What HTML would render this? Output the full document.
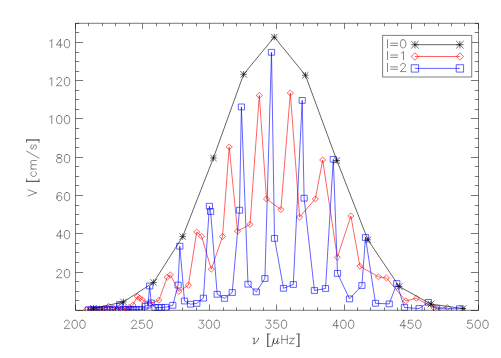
<!DOCTYPE html>
<html><head><meta charset="utf-8"><title>V vs nu</title>
<style>html,body{margin:0;padding:0;background:#fff;overflow:hidden;font-family:"Liberation Sans",sans-serif;}svg{display:block;}</style>
</head><body>
<svg width="501" height="358" viewBox="0 0 501 358" role="img" aria-label="V [cm/s] versus nu [muHz] for l=0, l=1, l=2 modes">
<rect x="0" y="0" width="501" height="358" fill="#fff"/>
<defs><clipPath id="pc"><rect x="75.5" y="23.3" width="403.0" height="287.4"/></clipPath></defs>
<g clip-path="url(#pc)">
<polyline fill="none" stroke="#ff0000" stroke-opacity="0.85" stroke-width="0.72" stroke-linejoin="round" points="86.7,309.6 90.9,309.5 95.1,309.4 99.3,309.2 103.6,308.4 108.6,306.2 113.0,307.7 117.2,308.8 121.4,309.0 125.4,308.6 129.2,307.4 132.9,305.0 137.4,296.5 139.8,298.2 142.3,299.9 150.3,303.5 158.9,300.3 167.2,277.3 170.4,274.9 178.9,291.4 188.4,285.2 196.7,232.0 201.5,236.2 211.3,269.2 222.5,236.5 229.2,147.0 237.5,231.2 250.0,224.4 259.3,95.4 266.5,198.9 280.9,209.5 290.3,93.0 299.6,217.1 315.3,198.9 322.7,160.0 337.3,257.3 350.9,216.0 359.9,266.2 378.5,276.9 386.4,277.9 405.8,300.9 416.2,298.3 434.0,307.8 447.3,307.5"/>
<path fill="none" stroke="#ff0000" stroke-opacity="0.85" stroke-width="0.72" d="M83.6 309.6 l3.1 -2.9 l3.1 2.9 l-3.1 2.9 Z M87.8 309.5 l3.1 -2.9 l3.1 2.9 l-3.1 2.9 Z M92.0 309.4 l3.1 -2.9 l3.1 2.9 l-3.1 2.9 Z M96.2 309.2 l3.1 -2.9 l3.1 2.9 l-3.1 2.9 Z M100.5 308.4 l3.1 -2.9 l3.1 2.9 l-3.1 2.9 Z M105.5 306.2 l3.1 -2.9 l3.1 2.9 l-3.1 2.9 Z M109.9 307.7 l3.1 -2.9 l3.1 2.9 l-3.1 2.9 Z M114.1 308.8 l3.1 -2.9 l3.1 2.9 l-3.1 2.9 Z M118.3 309.0 l3.1 -2.9 l3.1 2.9 l-3.1 2.9 Z M122.3 308.6 l3.1 -2.9 l3.1 2.9 l-3.1 2.9 Z M126.1 307.4 l3.1 -2.9 l3.1 2.9 l-3.1 2.9 Z M129.8 305.0 l3.1 -2.9 l3.1 2.9 l-3.1 2.9 Z M134.3 296.5 l3.1 -2.9 l3.1 2.9 l-3.1 2.9 Z M136.7 298.2 l3.1 -2.9 l3.1 2.9 l-3.1 2.9 Z M139.2 299.9 l3.1 -2.9 l3.1 2.9 l-3.1 2.9 Z M147.2 303.5 l3.1 -2.9 l3.1 2.9 l-3.1 2.9 Z M155.8 300.3 l3.1 -2.9 l3.1 2.9 l-3.1 2.9 Z M164.1 277.3 l3.1 -2.9 l3.1 2.9 l-3.1 2.9 Z M167.3 274.9 l3.1 -2.9 l3.1 2.9 l-3.1 2.9 Z M175.8 291.4 l3.1 -2.9 l3.1 2.9 l-3.1 2.9 Z M185.3 285.2 l3.1 -2.9 l3.1 2.9 l-3.1 2.9 Z M193.6 232.0 l3.1 -2.9 l3.1 2.9 l-3.1 2.9 Z M198.4 236.2 l3.1 -2.9 l3.1 2.9 l-3.1 2.9 Z M208.2 269.2 l3.1 -2.9 l3.1 2.9 l-3.1 2.9 Z M219.4 236.5 l3.1 -2.9 l3.1 2.9 l-3.1 2.9 Z M226.1 147.0 l3.1 -2.9 l3.1 2.9 l-3.1 2.9 Z M234.4 231.2 l3.1 -2.9 l3.1 2.9 l-3.1 2.9 Z M246.9 224.4 l3.1 -2.9 l3.1 2.9 l-3.1 2.9 Z M256.2 95.4 l3.1 -2.9 l3.1 2.9 l-3.1 2.9 Z M263.4 198.9 l3.1 -2.9 l3.1 2.9 l-3.1 2.9 Z M277.8 209.5 l3.1 -2.9 l3.1 2.9 l-3.1 2.9 Z M287.2 93.0 l3.1 -2.9 l3.1 2.9 l-3.1 2.9 Z M296.5 217.1 l3.1 -2.9 l3.1 2.9 l-3.1 2.9 Z M312.2 198.9 l3.1 -2.9 l3.1 2.9 l-3.1 2.9 Z M319.6 160.0 l3.1 -2.9 l3.1 2.9 l-3.1 2.9 Z M334.2 257.3 l3.1 -2.9 l3.1 2.9 l-3.1 2.9 Z M347.8 216.0 l3.1 -2.9 l3.1 2.9 l-3.1 2.9 Z M356.8 266.2 l3.1 -2.9 l3.1 2.9 l-3.1 2.9 Z M375.4 276.9 l3.1 -2.9 l3.1 2.9 l-3.1 2.9 Z M383.3 277.9 l3.1 -2.9 l3.1 2.9 l-3.1 2.9 Z M402.7 300.9 l3.1 -2.9 l3.1 2.9 l-3.1 2.9 Z M413.1 298.3 l3.1 -2.9 l3.1 2.9 l-3.1 2.9 Z M430.9 307.8 l3.1 -2.9 l3.1 2.9 l-3.1 2.9 Z M444.2 307.5 l3.1 -2.9 l3.1 2.9 l-3.1 2.9 Z"/>
<polyline fill="none" stroke="#0000ff" stroke-opacity="0.85" stroke-width="0.72" stroke-linejoin="round" points="88.3,309.8 91.0,309.8 93.7,309.8 96.4,309.8 99.1,309.8 101.8,309.8 104.5,309.8 107.2,309.8 109.9,309.8 112.6,309.8 115.3,309.8 119.7,304.5 119.9,306.3 123.2,309.6 125.8,309.6 128.4,309.6 131.0,309.6 133.6,309.6 136.2,309.6 138.8,309.6 141.4,309.6 145.0,306.3 148.0,305.0 149.7,286.0 151.2,302.9 155.0,307.5 158.3,307.5 161.5,307.5 165.5,307.3 172.8,305.3 178.1,285.1 179.8,246.2 184.5,301.0 190.5,304.2 196.8,303.4 203.4,298.1 209.4,206.2 210.6,211.5 217.2,294.3 224.5,298.4 232.2,292.5 239.5,210.2 241.4,106.9 248.0,284.2 256.3,291.9 264.9,278.5 271.5,52.3 274.5,238.4 283.5,288.3 293.3,284.5 302.2,100.4 304.1,198.2 314.4,290.5 325.5,288.5 333.3,159.3 337.5,273.4 349.5,298.9 361.9,285.5 365.5,237.5 375.5,303.3 389.2,303.9 396.8,283.5 404.5,307.5 419.1,308.5 428.3,302.4 436.6,308.8 459.6,308.7"/>
<path fill="none" stroke="#0000ff" stroke-opacity="0.85" stroke-width="0.72" d="M85.2 306.9 h6.2 v5.8 h-6.2 Z M87.9 306.9 h6.2 v5.8 h-6.2 Z M90.6 306.9 h6.2 v5.8 h-6.2 Z M93.3 306.9 h6.2 v5.8 h-6.2 Z M96.0 306.9 h6.2 v5.8 h-6.2 Z M98.7 306.9 h6.2 v5.8 h-6.2 Z M101.4 306.9 h6.2 v5.8 h-6.2 Z M104.1 306.9 h6.2 v5.8 h-6.2 Z M106.8 306.9 h6.2 v5.8 h-6.2 Z M109.5 306.9 h6.2 v5.8 h-6.2 Z M112.2 306.9 h6.2 v5.8 h-6.2 Z M116.6 301.6 h6.2 v5.8 h-6.2 Z M116.8 303.4 h6.2 v5.8 h-6.2 Z M120.1 306.7 h6.2 v5.8 h-6.2 Z M122.7 306.7 h6.2 v5.8 h-6.2 Z M125.3 306.7 h6.2 v5.8 h-6.2 Z M127.9 306.7 h6.2 v5.8 h-6.2 Z M130.5 306.7 h6.2 v5.8 h-6.2 Z M133.1 306.7 h6.2 v5.8 h-6.2 Z M135.7 306.7 h6.2 v5.8 h-6.2 Z M138.3 306.7 h6.2 v5.8 h-6.2 Z M141.9 303.4 h6.2 v5.8 h-6.2 Z M144.9 302.1 h6.2 v5.8 h-6.2 Z M146.6 283.1 h6.2 v5.8 h-6.2 Z M148.1 300.0 h6.2 v5.8 h-6.2 Z M151.9 304.6 h6.2 v5.8 h-6.2 Z M155.2 304.6 h6.2 v5.8 h-6.2 Z M158.4 304.6 h6.2 v5.8 h-6.2 Z M162.4 304.4 h6.2 v5.8 h-6.2 Z M169.7 302.4 h6.2 v5.8 h-6.2 Z M175.0 282.2 h6.2 v5.8 h-6.2 Z M176.7 243.3 h6.2 v5.8 h-6.2 Z M181.4 298.1 h6.2 v5.8 h-6.2 Z M187.4 301.3 h6.2 v5.8 h-6.2 Z M193.7 300.5 h6.2 v5.8 h-6.2 Z M200.3 295.2 h6.2 v5.8 h-6.2 Z M206.3 203.3 h6.2 v5.8 h-6.2 Z M207.5 208.6 h6.2 v5.8 h-6.2 Z M214.1 291.4 h6.2 v5.8 h-6.2 Z M221.4 295.5 h6.2 v5.8 h-6.2 Z M229.1 289.6 h6.2 v5.8 h-6.2 Z M236.4 207.3 h6.2 v5.8 h-6.2 Z M238.3 104.0 h6.2 v5.8 h-6.2 Z M244.9 281.3 h6.2 v5.8 h-6.2 Z M253.2 289.0 h6.2 v5.8 h-6.2 Z M261.8 275.6 h6.2 v5.8 h-6.2 Z M268.4 49.4 h6.2 v5.8 h-6.2 Z M271.4 235.5 h6.2 v5.8 h-6.2 Z M280.4 285.4 h6.2 v5.8 h-6.2 Z M290.2 281.6 h6.2 v5.8 h-6.2 Z M299.1 97.5 h6.2 v5.8 h-6.2 Z M301.0 195.3 h6.2 v5.8 h-6.2 Z M311.3 287.6 h6.2 v5.8 h-6.2 Z M322.4 285.6 h6.2 v5.8 h-6.2 Z M330.2 156.4 h6.2 v5.8 h-6.2 Z M334.4 270.5 h6.2 v5.8 h-6.2 Z M346.4 296.0 h6.2 v5.8 h-6.2 Z M358.8 282.6 h6.2 v5.8 h-6.2 Z M362.4 234.6 h6.2 v5.8 h-6.2 Z M372.4 300.4 h6.2 v5.8 h-6.2 Z M386.1 301.0 h6.2 v5.8 h-6.2 Z M393.7 280.6 h6.2 v5.8 h-6.2 Z M401.4 304.6 h6.2 v5.8 h-6.2 Z M416.0 305.6 h6.2 v5.8 h-6.2 Z M425.2 299.5 h6.2 v5.8 h-6.2 Z M433.5 305.9 h6.2 v5.8 h-6.2 Z M456.5 305.8 h6.2 v5.8 h-6.2 Z"/>
<polyline fill="none" stroke="#000" stroke-opacity="0.85" stroke-width="0.72" stroke-linejoin="round" points="93.5,308.3 123.5,301.9 153.6,282.4 182.7,236.6 213.4,158.0 243.6,74.3 274.3,37.1 305.4,75.2 336.9,160.5 367.9,239.9 399.3,286.5 430.9,304.1 463.0,308.5"/>
<path fill="none" stroke="#000" stroke-opacity="0.85" stroke-width="0.72" d="M90.3 308.3 h6.4 M93.5 305.1 v6.4 M90.3 305.1 l6.4 6.4 M90.3 311.5 l6.4 -6.4 M120.3 301.9 h6.4 M123.5 298.7 v6.4 M120.3 298.7 l6.4 6.4 M120.3 305.1 l6.4 -6.4 M150.4 282.4 h6.4 M153.6 279.2 v6.4 M150.4 279.2 l6.4 6.4 M150.4 285.6 l6.4 -6.4 M179.5 236.6 h6.4 M182.7 233.4 v6.4 M179.5 233.4 l6.4 6.4 M179.5 239.8 l6.4 -6.4 M210.2 158.0 h6.4 M213.4 154.8 v6.4 M210.2 154.8 l6.4 6.4 M210.2 161.2 l6.4 -6.4 M240.4 74.3 h6.4 M243.6 71.1 v6.4 M240.4 71.1 l6.4 6.4 M240.4 77.5 l6.4 -6.4 M271.1 37.1 h6.4 M274.3 33.9 v6.4 M271.1 33.9 l6.4 6.4 M271.1 40.3 l6.4 -6.4 M302.2 75.2 h6.4 M305.4 72.0 v6.4 M302.2 72.0 l6.4 6.4 M302.2 78.4 l6.4 -6.4 M333.7 160.5 h6.4 M336.9 157.3 v6.4 M333.7 157.3 l6.4 6.4 M333.7 163.7 l6.4 -6.4 M364.7 239.9 h6.4 M367.9 236.7 v6.4 M364.7 236.7 l6.4 6.4 M364.7 243.1 l6.4 -6.4 M396.1 286.5 h6.4 M399.3 283.3 v6.4 M396.1 283.3 l6.4 6.4 M396.1 289.7 l6.4 -6.4 M427.7 304.1 h6.4 M430.9 300.9 v6.4 M427.7 300.9 l6.4 6.4 M427.7 307.3 l6.4 -6.4 M459.8 308.5 h6.4 M463.0 305.3 v6.4 M459.8 305.3 l6.4 6.4 M459.8 311.7 l6.4 -6.4"/>
</g>
<path fill="none" stroke="#000" stroke-opacity="0.52" stroke-width="1" d="M75.5 23.3 H478.5 V310.3 H75.5 Z M75.50 310.3 v-5.8 M75.50 23.3 v5.8 M88.50 310.3 v-2.9 M88.50 23.3 v2.9 M102.50 310.3 v-2.9 M102.50 23.3 v2.9 M115.50 310.3 v-2.9 M115.50 23.3 v2.9 M129.50 310.3 v-2.9 M129.50 23.3 v2.9 M142.50 310.3 v-5.8 M142.50 23.3 v5.8 M156.50 310.3 v-2.9 M156.50 23.3 v2.9 M169.50 310.3 v-2.9 M169.50 23.3 v2.9 M182.50 310.3 v-2.9 M182.50 23.3 v2.9 M196.50 310.3 v-2.9 M196.50 23.3 v2.9 M209.50 310.3 v-5.8 M209.50 23.3 v5.8 M223.50 310.3 v-2.9 M223.50 23.3 v2.9 M236.50 310.3 v-2.9 M236.50 23.3 v2.9 M250.50 310.3 v-2.9 M250.50 23.3 v2.9 M263.50 310.3 v-2.9 M263.50 23.3 v2.9 M276.50 310.3 v-5.8 M276.50 23.3 v5.8 M290.50 310.3 v-2.9 M290.50 23.3 v2.9 M303.50 310.3 v-2.9 M303.50 23.3 v2.9 M317.50 310.3 v-2.9 M317.50 23.3 v2.9 M330.50 310.3 v-2.9 M330.50 23.3 v2.9 M344.50 310.3 v-5.8 M344.50 23.3 v5.8 M357.50 310.3 v-2.9 M357.50 23.3 v2.9 M370.50 310.3 v-2.9 M370.50 23.3 v2.9 M384.50 310.3 v-2.9 M384.50 23.3 v2.9 M397.50 310.3 v-2.9 M397.50 23.3 v2.9 M411.50 310.3 v-5.8 M411.50 23.3 v5.8 M424.50 310.3 v-2.9 M424.50 23.3 v2.9 M438.50 310.3 v-2.9 M438.50 23.3 v2.9 M451.50 310.3 v-2.9 M451.50 23.3 v2.9 M464.50 310.3 v-2.9 M464.50 23.3 v2.9 M478.50 310.3 v-5.8 M478.50 23.3 v5.8 M75.5 310.50 h7.6 M478.5 310.50 h-7.6 M75.5 300.50 h3.7 M478.5 300.50 h-3.7 M75.5 291.50 h3.7 M478.5 291.50 h-3.7 M75.5 281.50 h3.7 M478.5 281.50 h-3.7 M75.5 272.50 h7.6 M478.5 272.50 h-7.6 M75.5 262.50 h3.7 M478.5 262.50 h-3.7 M75.5 252.50 h3.7 M478.5 252.50 h-3.7 M75.5 243.50 h3.7 M478.5 243.50 h-3.7 M75.5 233.50 h7.6 M478.5 233.50 h-7.6 M75.5 224.50 h3.7 M478.5 224.50 h-3.7 M75.5 214.50 h3.7 M478.5 214.50 h-3.7 M75.5 205.50 h3.7 M478.5 205.50 h-3.7 M75.5 195.50 h7.6 M478.5 195.50 h-7.6 M75.5 185.50 h3.7 M478.5 185.50 h-3.7 M75.5 176.50 h3.7 M478.5 176.50 h-3.7 M75.5 166.50 h3.7 M478.5 166.50 h-3.7 M75.5 157.50 h7.6 M478.5 157.50 h-7.6 M75.5 147.50 h3.7 M478.5 147.50 h-3.7 M75.5 138.50 h3.7 M478.5 138.50 h-3.7 M75.5 128.50 h3.7 M478.5 128.50 h-3.7 M75.5 118.50 h7.6 M478.5 118.50 h-7.6 M75.5 109.50 h3.7 M478.5 109.50 h-3.7 M75.5 99.50 h3.7 M478.5 99.50 h-3.7 M75.5 90.50 h3.7 M478.5 90.50 h-3.7 M75.5 80.50 h7.6 M478.5 80.50 h-7.6 M75.5 71.50 h3.7 M478.5 71.50 h-3.7 M75.5 61.50 h3.7 M478.5 61.50 h-3.7 M75.5 52.50 h3.7 M478.5 52.50 h-3.7 M75.5 42.50 h7.6 M478.5 42.50 h-7.6 M75.5 32.50 h3.7 M478.5 32.50 h-3.7 M75.5 23.50 h3.7 M478.5 23.50 h-3.7"/>
<path fill="none" stroke="#000" stroke-opacity="0.66" stroke-width="0.95" stroke-linejoin="round" stroke-linecap="round" d="M253.15 338.24 L254.32 338.24 L254.17 340.58 L253.93 343.70 M258.61 338.24 L258.22 339.41 L257.83 340.19 L256.66 341.75 L255.49 342.92 L253.93 343.70 M274.21 338.24 L271.87 346.43 M273.82 339.80 L273.43 341.75 L273.43 342.92 L274.21 343.70 L274.99 343.70 L275.77 343.31 L276.55 342.53 L277.33 340.97 M278.11 338.24 L277.33 340.97 L276.94 342.53 L276.94 343.31 L277.33 343.70 L278.11 343.70 L278.89 342.92 L279.28 342.14"/>
<path fill="none" stroke="#000" stroke-opacity="0.58" stroke-width="0.82" stroke-linejoin="round" stroke-linecap="round" d="M64.56 322.16 L64.56 321.77 L64.95 320.99 L65.34 320.60 L66.12 320.21 L67.68 320.21 L68.46 320.60 L68.85 320.99 L69.24 321.77 L69.24 322.55 L68.85 323.33 L68.07 324.50 L64.17 328.40 L69.63 328.40 M74.31 320.21 L73.14 320.60 L72.36 321.77 L71.97 323.72 L71.97 324.89 L72.36 326.84 L73.14 328.01 L74.31 328.40 L75.09 328.40 L76.26 328.01 L77.04 326.84 L77.43 324.89 L77.43 323.72 L77.04 321.77 L76.26 320.60 L75.09 320.21 L74.31 320.21 M82.11 320.21 L80.94 320.60 L80.16 321.77 L79.77 323.72 L79.77 324.89 L80.16 326.84 L80.94 328.01 L82.11 328.40 L82.89 328.40 L84.06 328.01 L84.84 326.84 L85.23 324.89 L85.23 323.72 L84.84 321.77 L84.06 320.60 L82.89 320.21 L82.11 320.21 M131.73 322.16 L131.73 321.77 L132.12 320.99 L132.51 320.60 L133.29 320.21 L134.85 320.21 L135.63 320.60 L136.02 320.99 L136.41 321.77 L136.41 322.55 L136.02 323.33 L135.24 324.50 L131.34 328.40 L136.80 328.40 M143.82 320.21 L139.92 320.21 L139.53 323.72 L139.92 323.33 L141.09 322.94 L142.26 322.94 L143.43 323.33 L144.21 324.11 L144.60 325.28 L144.60 326.06 L144.21 327.23 L143.43 328.01 L142.26 328.40 L141.09 328.40 L139.92 328.01 L139.53 327.62 L139.14 326.84 M149.28 320.21 L148.11 320.60 L147.33 321.77 L146.94 323.72 L146.94 324.89 L147.33 326.84 L148.11 328.01 L149.28 328.40 L150.06 328.40 L151.23 328.01 L152.01 326.84 L152.40 324.89 L152.40 323.72 L152.01 321.77 L151.23 320.60 L150.06 320.21 L149.28 320.21 M199.28 320.21 L203.57 320.21 L201.23 323.33 L202.40 323.33 L203.18 323.72 L203.57 324.11 L203.96 325.28 L203.96 326.06 L203.57 327.23 L202.79 328.01 L201.62 328.40 L200.45 328.40 L199.28 328.01 L198.89 327.62 L198.50 326.84 M208.64 320.21 L207.47 320.60 L206.69 321.77 L206.30 323.72 L206.30 324.89 L206.69 326.84 L207.47 328.01 L208.64 328.40 L209.42 328.40 L210.59 328.01 L211.37 326.84 L211.76 324.89 L211.76 323.72 L211.37 321.77 L210.59 320.60 L209.42 320.21 L208.64 320.21 M216.44 320.21 L215.27 320.60 L214.49 321.77 L214.10 323.72 L214.10 324.89 L214.49 326.84 L215.27 328.01 L216.44 328.40 L217.22 328.40 L218.39 328.01 L219.17 326.84 L219.56 324.89 L219.56 323.72 L219.17 321.77 L218.39 320.60 L217.22 320.21 L216.44 320.21 M266.45 320.21 L270.74 320.21 L268.40 323.33 L269.57 323.33 L270.35 323.72 L270.74 324.11 L271.13 325.28 L271.13 326.06 L270.74 327.23 L269.96 328.01 L268.79 328.40 L267.62 328.40 L266.45 328.01 L266.06 327.62 L265.67 326.84 M278.15 320.21 L274.25 320.21 L273.86 323.72 L274.25 323.33 L275.42 322.94 L276.59 322.94 L277.76 323.33 L278.54 324.11 L278.93 325.28 L278.93 326.06 L278.54 327.23 L277.76 328.01 L276.59 328.40 L275.42 328.40 L274.25 328.01 L273.86 327.62 L273.47 326.84 M283.61 320.21 L282.44 320.60 L281.66 321.77 L281.27 323.72 L281.27 324.89 L281.66 326.84 L282.44 328.01 L283.61 328.40 L284.39 328.40 L285.56 328.01 L286.34 326.84 L286.73 324.89 L286.73 323.72 L286.34 321.77 L285.56 320.60 L284.39 320.21 L283.61 320.21 M336.74 320.21 L332.84 325.67 L338.69 325.67 M336.74 320.21 L336.74 328.40 M342.98 320.21 L341.81 320.60 L341.03 321.77 L340.64 323.72 L340.64 324.89 L341.03 326.84 L341.81 328.01 L342.98 328.40 L343.76 328.40 L344.93 328.01 L345.71 326.84 L346.10 324.89 L346.10 323.72 L345.71 321.77 L344.93 320.60 L343.76 320.21 L342.98 320.21 M350.78 320.21 L349.61 320.60 L348.83 321.77 L348.44 323.72 L348.44 324.89 L348.83 326.84 L349.61 328.01 L350.78 328.40 L351.56 328.40 L352.73 328.01 L353.51 326.84 L353.90 324.89 L353.90 323.72 L353.51 321.77 L352.73 320.60 L351.56 320.21 L350.78 320.21 M403.90 320.21 L400.00 325.67 L405.85 325.67 M403.90 320.21 L403.90 328.40 M412.48 320.21 L408.58 320.21 L408.19 323.72 L408.58 323.33 L409.75 322.94 L410.92 322.94 L412.09 323.33 L412.87 324.11 L413.26 325.28 L413.26 326.06 L412.87 327.23 L412.09 328.01 L410.92 328.40 L409.75 328.40 L408.58 328.01 L408.19 327.62 L407.80 326.84 M417.94 320.21 L416.77 320.60 L415.99 321.77 L415.60 323.72 L415.60 324.89 L415.99 326.84 L416.77 328.01 L417.94 328.40 L418.72 328.40 L419.89 328.01 L420.67 326.84 L421.06 324.89 L421.06 323.72 L420.67 321.77 L419.89 320.60 L418.72 320.21 L417.94 320.21 M471.85 320.21 L467.95 320.21 L467.56 323.72 L467.95 323.33 L469.12 322.94 L470.29 322.94 L471.46 323.33 L472.24 324.11 L472.63 325.28 L472.63 326.06 L472.24 327.23 L471.46 328.01 L470.29 328.40 L469.12 328.40 L467.95 328.01 L467.56 327.62 L467.17 326.84 M477.31 320.21 L476.14 320.60 L475.36 321.77 L474.97 323.72 L474.97 324.89 L475.36 326.84 L476.14 328.01 L477.31 328.40 L478.09 328.40 L479.26 328.01 L480.04 326.84 L480.43 324.89 L480.43 323.72 L480.04 321.77 L479.26 320.60 L478.09 320.21 L477.31 320.21 M485.11 320.21 L483.94 320.60 L483.16 321.77 L482.77 323.72 L482.77 324.89 L483.16 326.84 L483.94 328.01 L485.11 328.40 L485.89 328.40 L487.06 328.01 L487.84 326.84 L488.23 324.89 L488.23 323.72 L487.84 321.77 L487.06 320.60 L485.89 320.21 L485.11 320.21 M56.86 271.46 L56.86 271.07 L57.25 270.29 L57.64 269.90 L58.42 269.51 L59.98 269.51 L60.76 269.90 L61.15 270.29 L61.54 271.07 L61.54 271.85 L61.15 272.63 L60.37 273.80 L56.47 277.70 L61.93 277.70 M66.61 269.51 L65.44 269.90 L64.66 271.07 L64.27 273.02 L64.27 274.19 L64.66 276.14 L65.44 277.31 L66.61 277.70 L67.39 277.70 L68.56 277.31 L69.34 276.14 L69.73 274.19 L69.73 273.02 L69.34 271.07 L68.56 269.90 L67.39 269.51 L66.61 269.51 M60.37 230.51 L56.47 235.97 L62.32 235.97 M60.37 230.51 L60.37 238.70 M66.61 230.51 L65.44 230.90 L64.66 232.07 L64.27 234.02 L64.27 235.19 L64.66 237.14 L65.44 238.31 L66.61 238.70 L67.39 238.70 L68.56 238.31 L69.34 237.14 L69.73 235.19 L69.73 234.02 L69.34 232.07 L68.56 230.90 L67.39 230.51 L66.61 230.51 M61.54 193.68 L61.15 192.90 L59.98 192.51 L59.20 192.51 L58.03 192.90 L57.25 194.07 L56.86 196.02 L56.86 197.97 L57.25 199.53 L58.03 200.31 L59.20 200.70 L59.59 200.70 L60.76 200.31 L61.54 199.53 L61.93 198.36 L61.93 197.97 L61.54 196.80 L60.76 196.02 L59.59 195.63 L59.20 195.63 L58.03 196.02 L57.25 196.80 L56.86 197.97 M66.61 192.51 L65.44 192.90 L64.66 194.07 L64.27 196.02 L64.27 197.19 L64.66 199.14 L65.44 200.31 L66.61 200.70 L67.39 200.70 L68.56 200.31 L69.34 199.14 L69.73 197.19 L69.73 196.02 L69.34 194.07 L68.56 192.90 L67.39 192.51 L66.61 192.51 M58.42 154.51 L57.25 154.90 L56.86 155.68 L56.86 156.46 L57.25 157.24 L58.03 157.63 L59.59 158.02 L60.76 158.41 L61.54 159.19 L61.93 159.97 L61.93 161.14 L61.54 161.92 L61.15 162.31 L59.98 162.70 L58.42 162.70 L57.25 162.31 L56.86 161.92 L56.47 161.14 L56.47 159.97 L56.86 159.19 L57.64 158.41 L58.81 158.02 L60.37 157.63 L61.15 157.24 L61.54 156.46 L61.54 155.68 L61.15 154.90 L59.98 154.51 L58.42 154.51 M66.61 154.51 L65.44 154.90 L64.66 156.07 L64.27 158.02 L64.27 159.19 L64.66 161.14 L65.44 162.31 L66.61 162.70 L67.39 162.70 L68.56 162.31 L69.34 161.14 L69.73 159.19 L69.73 158.02 L69.34 156.07 L68.56 154.90 L67.39 154.51 L66.61 154.51 M49.84 117.07 L50.62 116.68 L51.79 115.51 L51.79 123.70 M58.81 115.51 L57.64 115.90 L56.86 117.07 L56.47 119.02 L56.47 120.19 L56.86 122.14 L57.64 123.31 L58.81 123.70 L59.59 123.70 L60.76 123.31 L61.54 122.14 L61.93 120.19 L61.93 119.02 L61.54 117.07 L60.76 115.90 L59.59 115.51 L58.81 115.51 M66.61 115.51 L65.44 115.90 L64.66 117.07 L64.27 119.02 L64.27 120.19 L64.66 122.14 L65.44 123.31 L66.61 123.70 L67.39 123.70 L68.56 123.31 L69.34 122.14 L69.73 120.19 L69.73 119.02 L69.34 117.07 L68.56 115.90 L67.39 115.51 L66.61 115.51 M49.84 79.07 L50.62 78.68 L51.79 77.51 L51.79 85.70 M56.86 79.46 L56.86 79.07 L57.25 78.29 L57.64 77.90 L58.42 77.51 L59.98 77.51 L60.76 77.90 L61.15 78.29 L61.54 79.07 L61.54 79.85 L61.15 80.63 L60.37 81.80 L56.47 85.70 L61.93 85.70 M66.61 77.51 L65.44 77.90 L64.66 79.07 L64.27 81.02 L64.27 82.19 L64.66 84.14 L65.44 85.31 L66.61 85.70 L67.39 85.70 L68.56 85.31 L69.34 84.14 L69.73 82.19 L69.73 81.02 L69.34 79.07 L68.56 77.90 L67.39 77.51 L66.61 77.51 M49.84 41.07 L50.62 40.68 L51.79 39.51 L51.79 47.70 M60.37 39.51 L56.47 44.97 L62.32 44.97 M60.37 39.51 L60.37 47.70 M66.61 39.51 L65.44 39.90 L64.66 41.07 L64.27 43.02 L64.27 44.19 L64.66 46.14 L65.44 47.31 L66.61 47.70 L67.39 47.70 L68.56 47.31 L69.34 46.14 L69.73 44.19 L69.73 43.02 L69.34 41.07 L68.56 39.90 L67.39 39.51 L66.61 39.51  M267.58 333.95 L267.58 346.43 M267.97 333.95 L267.97 346.43 M267.58 333.95 L270.31 333.95 M267.58 346.43 L270.31 346.43 M281.82 335.51 L281.82 343.70 M287.28 335.51 L287.28 343.70 M281.82 339.41 L287.28 339.41 M293.99 338.24 L289.70 343.70 M289.70 338.24 L293.99 338.24 M289.70 343.70 L293.99 343.70 M298.67 333.95 L298.67 346.43 M299.06 333.95 L299.06 346.43 M296.33 333.95 L299.06 333.95 M296.33 346.43 L299.06 346.43"/>
<g transform="translate(36.3 196.36) rotate(-90)"><path fill="none" stroke="#000" stroke-opacity="0.58" stroke-width="0.82" stroke-linejoin="round" stroke-linecap="round" d="M0.39 -8.19 L3.51 0.00 M6.63 -8.19 L3.51 0.00 M14.82 -9.75 L14.82 2.73 M15.21 -9.75 L15.21 2.73 M14.82 -9.75 L17.55 -9.75 M14.82 2.73 L17.55 2.73 M24.57 -4.29 L23.79 -5.07 L23.01 -5.46 L21.84 -5.46 L21.06 -5.07 L20.28 -4.29 L19.89 -3.12 L19.89 -2.34 L20.28 -1.17 L21.06 -0.39 L21.84 0.00 L23.01 0.00 L23.79 -0.39 L24.57 -1.17 M27.30 -5.46 L27.30 0.00 M27.30 -3.90 L28.47 -5.07 L29.25 -5.46 L30.42 -5.46 L31.20 -5.07 L31.59 -3.90 L31.59 0.00 M31.59 -3.90 L32.76 -5.07 L33.54 -5.46 L34.71 -5.46 L35.49 -5.07 L35.88 -3.90 L35.88 0.00 M45.24 -9.75 L38.22 2.73 M51.48 -4.29 L51.09 -5.07 L49.92 -5.46 L48.75 -5.46 L47.58 -5.07 L47.19 -4.29 L47.58 -3.51 L48.36 -3.12 L50.31 -2.73 L51.09 -2.34 L51.48 -1.56 L51.48 -1.17 L51.09 -0.39 L49.92 0.00 L48.75 0.00 L47.58 -0.39 L47.19 -1.17 M56.16 -9.75 L56.16 2.73 M56.55 -9.75 L56.55 2.73 M53.82 -9.75 L56.55 -9.75 M53.82 2.73 L56.55 2.73"/></g>
<rect x="382.6" y="35.4" width="89.1" height="41.6" fill="#fff" stroke="#000" stroke-opacity="0.5" stroke-width="1"/>
<polyline fill="none" stroke="#000" stroke-opacity="0.85" stroke-width="0.72" stroke-linejoin="round" points="414.9,44.7 459.9,44.7"/>
<path fill="none" stroke="#000" stroke-opacity="0.85" stroke-width="0.72" d="M411.2 44.7 h7.4 M414.9 41.0 v7.4 M411.2 41.0 l7.4 7.4 M411.2 48.4 l7.4 -7.4 M456.2 44.7 h7.4 M459.9 41.0 v7.4 M456.2 41.0 l7.4 7.4 M456.2 48.4 l7.4 -7.4"/>
<polyline fill="none" stroke="#ff0000" stroke-opacity="0.85" stroke-width="0.72" stroke-linejoin="round" points="414.9,56.5 459.9,56.5"/>
<path fill="none" stroke="#ff0000" stroke-opacity="0.85" stroke-width="0.72" d="M411.2 56.5 l3.7 -3.7 l3.7 3.7 l-3.7 3.7 Z M456.2 56.5 l3.7 -3.7 l3.7 3.7 l-3.7 3.7 Z"/>
<polyline fill="none" stroke="#0000ff" stroke-opacity="0.85" stroke-width="0.72" stroke-linejoin="round" points="414.9,68.4 459.9,68.4"/>
<path fill="none" stroke="#0000ff" stroke-opacity="0.85" stroke-width="0.72" d="M411.2 64.7 h7.4 v7.4 h-7.4 Z M456.2 64.7 h7.4 v7.4 h-7.4 Z"/>
<path fill="none" stroke="#000" stroke-opacity="0.58" stroke-width="0.82" stroke-linejoin="round" stroke-linecap="round" d="M387.51 39.71 L387.51 47.90 M390.63 43.22 L397.65 43.22 M390.63 45.56 L397.65 45.56 M402.72 39.71 L401.55 40.10 L400.77 41.27 L400.38 43.22 L400.38 44.39 L400.77 46.34 L401.55 47.51 L402.72 47.90 L403.50 47.90 L404.67 47.51 L405.45 46.34 L405.84 44.39 L405.84 43.22 L405.45 41.27 L404.67 40.10 L403.50 39.71 L402.72 39.71 M387.51 51.51 L387.51 59.70 M390.63 55.02 L397.65 55.02 M390.63 57.36 L397.65 57.36 M401.55 53.07 L402.33 52.68 L403.50 51.51 L403.50 59.70 M387.51 63.41 L387.51 71.60 M390.63 66.92 L397.65 66.92 M390.63 69.26 L397.65 69.26 M400.77 65.36 L400.77 64.97 L401.16 64.19 L401.55 63.80 L402.33 63.41 L403.89 63.41 L404.67 63.80 L405.06 64.19 L405.45 64.97 L405.45 65.75 L405.06 66.53 L404.28 67.70 L400.38 71.60 L405.84 71.60"/>
</svg>
</body></html>
